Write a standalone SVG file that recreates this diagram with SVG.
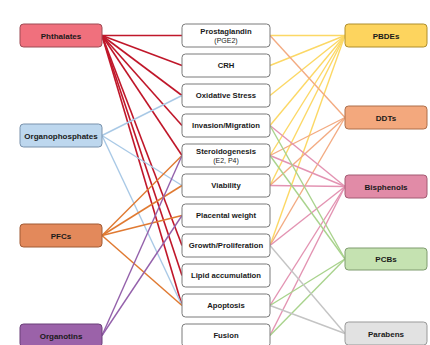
<svg xmlns="http://www.w3.org/2000/svg" width="430" height="345" viewBox="0 0 430 345">
<style>
.bg{fill:#ffffff}
.nd{stroke-width:1}
.mid{fill:#ffffff;stroke:#7a7a7a;stroke-width:1}
.t{font-family:"Liberation Sans",Arial,sans-serif;font-weight:bold;font-size:8px;fill:#1a1a1a;text-anchor:middle}
.tm{font-family:"Liberation Sans",Arial,sans-serif;font-weight:bold;font-size:7.7px;fill:#1a1a1a;text-anchor:middle}
.ts{font-family:"Liberation Sans",Arial,sans-serif;font-size:7px;fill:#1a1a1a;text-anchor:middle}
.c{fill:none;stroke-width:1.4}
.ph{stroke:#c0172a;stroke-width:1.6}
.op{stroke:#a9c9e6}
.pf{stroke:#e07a32;stroke-width:1.5}
.ot{stroke:#9461ab}
.pb{stroke:#fcd865}
.dd{stroke:#f3ab82}
.bp{stroke:#e393b2}
.pc{stroke:#a9d38d}
.pa{stroke:#c4c4c4}
</style>
<rect class="bg" x="0" y="0" width="430" height="345"/>
<g id="connectors">
<!-- Phthalates -->
<line class="c ph" x1="102" y1="35.5" x2="182" y2="35.5"/>
<line class="c ph" x1="102" y1="35.5" x2="182" y2="65.5"/>
<line class="c ph" x1="102" y1="35.5" x2="182" y2="95.5"/>
<line class="c ph" x1="102" y1="35.5" x2="182" y2="125.5"/>
<line class="c ph" x1="102" y1="35.5" x2="182" y2="155.5"/>
<line class="c ph" x1="102" y1="35.5" x2="182" y2="245.5"/>
<line class="c ph" x1="102" y1="35.5" x2="182" y2="275.5"/>
<line class="c ph" x1="102" y1="35.5" x2="182" y2="305.5"/>
<!-- Organophosphates -->
<line class="c op" x1="102" y1="135.5" x2="182" y2="95.5"/>
<line class="c op" x1="102" y1="135.5" x2="182" y2="185.5"/>
<line class="c op" x1="102" y1="135.5" x2="182" y2="305.5"/>
<!-- PFCs -->
<line class="c pf" x1="102" y1="235.5" x2="182" y2="155.5"/>
<line class="c pf" x1="102" y1="235.5" x2="182" y2="185.5"/>
<line class="c pf" x1="102" y1="235.5" x2="182" y2="215.5"/>
<line class="c pf" x1="102" y1="235.5" x2="182" y2="305.5"/>
<!-- Organotins -->
<line class="c ot" x1="102" y1="335.5" x2="182" y2="155.5"/>
<line class="c ot" x1="102" y1="335.5" x2="182" y2="215.5"/>
<!-- PBDEs -->
<line class="c pb" x1="270" y1="35.5" x2="345" y2="35.5"/>
<line class="c pb" x1="270" y1="65.5" x2="345" y2="35.5"/>
<line class="c pb" x1="270" y1="95.5" x2="345" y2="35.5"/>
<line class="c pb" x1="270" y1="125.5" x2="345" y2="35.5"/>
<line class="c pb" x1="270" y1="155.5" x2="345" y2="35.5"/>
<line class="c pb" x1="270" y1="185.5" x2="345" y2="35.5"/>
<line class="c pb" x1="270" y1="245.5" x2="345" y2="35.5"/>
<!-- DDTs -->
<line class="c dd" x1="270" y1="35.5" x2="345" y2="117.5"/>
<line class="c dd" x1="270" y1="155.5" x2="345" y2="117.5"/>
<line class="c dd" x1="270" y1="185.5" x2="345" y2="117.5"/>
<line class="c dd" x1="270" y1="245.5" x2="345" y2="117.5"/>
<!-- Bisphenols -->
<line class="c bp" x1="270" y1="125.5" x2="345" y2="186.5"/>
<line class="c bp" x1="270" y1="155.5" x2="345" y2="186.5"/>
<line class="c bp" x1="270" y1="185.5" x2="345" y2="186.5"/>
<line class="c bp" x1="270" y1="245.5" x2="345" y2="186.5"/>
<line class="c bp" x1="270" y1="305.5" x2="345" y2="186.5"/>
<line class="c bp" x1="270" y1="335.5" x2="345" y2="186.5"/>
<!-- PCBs -->
<line class="c pc" x1="270" y1="125.5" x2="345" y2="259"/>
<line class="c pc" x1="270" y1="155.5" x2="345" y2="259"/>
<line class="c pc" x1="270" y1="305.5" x2="345" y2="259"/>
<line class="c pc" x1="270" y1="335.5" x2="345" y2="259"/>
<!-- Parabens -->
<line class="c pa" x1="270" y1="245.5" x2="345" y2="333.5"/>
<line class="c pa" x1="270" y1="305.5" x2="345" y2="333.5"/>
</g>
<g id="phthalates"><rect class="nd" x="20" y="24" width="82" height="23" rx="3.5" fill="#f0707d" stroke="#9c4a54"/><text class="t" x="61" y="38.5">Phthalates</text></g>
<g id="organophosphates"><rect class="nd" x="20" y="124" width="82" height="23" rx="3.5" fill="#bdd7ee" stroke="#7891ab"/><text class="t" x="61" y="138.5">Organophosphates</text></g>
<g id="pfcs"><rect class="nd" x="20" y="224" width="82" height="23" rx="3.5" fill="#e3895b" stroke="#a05a34"/><text class="t" x="61" y="238.5">PFCs</text></g>
<g id="organotins"><rect class="nd" x="20" y="324" width="82" height="23" rx="3.5" fill="#9b62a9" stroke="#6a3f78"/><text class="t" x="61" y="338.5">Organotins</text></g>

<g id="prostaglandin"><rect class="mid" x="182" y="24" width="88" height="23" rx="3.5"/><text class="tm" x="226" y="33.5">Prostaglandin</text><text class="ts" x="226" y="42.5">(PGE2)</text></g>
<g id="crh"><rect class="mid" x="182" y="54" width="88" height="23" rx="3.5"/><text class="tm" x="226" y="68.3">CRH</text></g>
<g id="oxidative-stress"><rect class="mid" x="182" y="84" width="88" height="23" rx="3.5"/><text class="tm" x="226" y="98.3">Oxidative Stress</text></g>
<g id="invasion-migration"><rect class="mid" x="182" y="114" width="88" height="23" rx="3.5"/><text class="tm" x="226" y="128.3">Invasion/Migration</text></g>
<g id="steroidogenesis"><rect class="mid" x="182" y="144" width="88" height="23" rx="3.5"/><text class="tm" x="226" y="153.5">Steroidogenesis</text><text class="ts" x="226" y="162.5">(E2, P4)</text></g>
<g id="viability"><rect class="mid" x="182" y="174" width="88" height="23" rx="3.5"/><text class="tm" x="226" y="188.3">Viability</text></g>
<g id="placental-weight"><rect class="mid" x="182" y="204" width="88" height="23" rx="3.5"/><text class="tm" x="226" y="218.3">Placental weight</text></g>
<g id="growth-proliferation"><rect class="mid" x="182" y="234" width="88" height="23" rx="3.5"/><text class="tm" x="226" y="248.3">Growth/Proliferation</text></g>
<g id="lipid-accumulation"><rect class="mid" x="182" y="264" width="88" height="23" rx="3.5"/><text class="tm" x="226" y="278.3">Lipid accumulation</text></g>
<g id="apoptosis"><rect class="mid" x="182" y="294" width="88" height="23" rx="3.5"/><text class="tm" x="226" y="308.3">Apoptosis</text></g>
<g id="fusion"><rect class="mid" x="182" y="324" width="88" height="23" rx="3.5"/><text class="tm" x="226" y="338.3">Fusion</text></g>

<g id="pbdes"><rect class="nd" x="345" y="24" width="82" height="23" rx="3.5" fill="#fdd45e" stroke="#ae8e2c"/><text class="t" x="386" y="38.5">PBDEs</text></g>
<g id="ddts"><rect class="nd" x="345" y="106" width="82" height="23" rx="3.5" fill="#f3a87d" stroke="#ad6f4b"/><text class="t" x="386" y="120.5">DDTs</text></g>
<g id="bisphenols"><rect class="nd" x="345" y="175" width="82" height="23" rx="3.5" fill="#e18ba7" stroke="#a25a72"/><text class="t" x="386" y="189.5">Bisphenols</text></g>
<g id="pcbs"><rect class="nd" x="345" y="248" width="82" height="22" rx="3.5" fill="#c5e2b1" stroke="#7e9b6f"/><text class="t" x="386" y="262">PCBs</text></g>
<g id="parabens"><rect class="nd" x="345" y="322" width="82" height="23" rx="3.5" fill="#e2e2e2" stroke="#999999"/><text class="t" x="386" y="336.5">Parabens</text></g>
</svg>
